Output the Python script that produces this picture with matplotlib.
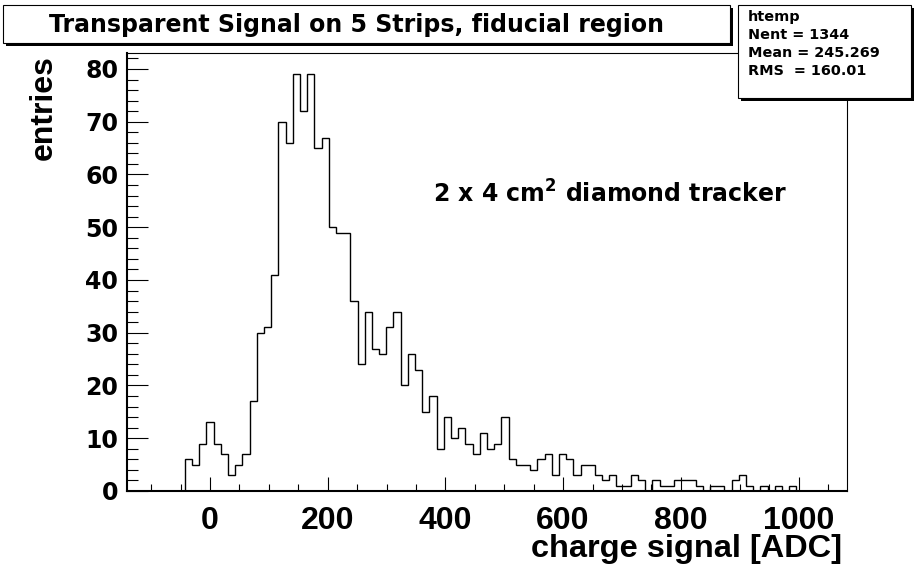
import numpy as np
import matplotlib
matplotlib.use("Agg")
import matplotlib.pyplot as plt
from matplotlib.patches import Rectangle
from matplotlib.ticker import MultipleLocator

plt.rcParams['font.family'] = 'DejaVu Sans'
plt.rcParams['font.weight'] = 'bold'
plt.rcParams['mathtext.default'] = 'bf'

# histogram "htemp": 100 bins over the auto range
xmin = -140.5
xmax = 1081.9
nbins = 100
counts = ([0] * 8 +
          [6, 5, 9, 13, 9, 7, 3, 5, 7, 17, 30, 31, 41, 70, 66, 79, 72, 79, 65, 67,
           50, 49, 49, 36, 24, 34, 27] +
          [26, 31, 34, 20, 26, 23, 15, 18, 8, 14, 10, 12, 9, 7, 11, 8, 9, 14, 6, 5,
           5, 4, 6, 7, 3, 7, 6, 3, 5, 5, 3, 2, 3, 1] +
          [1, 3, 2, 0, 2, 1, 1, 2, 2, 2, 1, 0, 1, 1, 0, 2, 3, 1, 0, 1, 0, 1, 0, 1] +
          [0] * 7)
ymax = 82.95

title = 'Transparent Signal on 5 Strips, fiducial region'
stats = ['htemp', 'Nent = 1344', 'Mean = 245.269', 'RMS  = 160.01']
note = '2 x 4 cm$^2$ diamond tracker'
xlabel = 'charge signal [ADC]'
ylabel = 'entries'

W, H = 916, 575


def fx(x):
    return x / W


def fy(y):
    return 1 - y / H


fig = plt.figure(figsize=(W / 100, H / 100), dpi=100)
ax = fig.add_axes([fx(127.3), fy(491), (846.7 - 127.3) / W, (491 - 53.4) / H])

edges = np.linspace(xmin, xmax, nbins + 1)
ax.stairs(counts, edges, color='black', lw=1.0)

ax.set_xlim(xmin, xmax)
ax.set_ylim(0, ymax)
ax.set_xticks(np.arange(0, 1001, 200))
ax.xaxis.set_minor_locator(MultipleLocator(50))
ax.set_yticks(np.arange(0, 81, 10))
ax.yaxis.set_minor_locator(MultipleLocator(2))

ax.tick_params(axis='x', which='major', direction='in', length=10, width=0.8,
               pad=11, labelsize=23, labelfontfamily='Liberation Sans')
ax.tick_params(axis='x', which='minor', direction='in', length=5, width=0.8)
ax.tick_params(axis='y', which='major', direction='in', length=15, width=0.8,
               pad=6.5, labelsize=17)
ax.tick_params(axis='y', which='minor', direction='in', length=8, width=0.8)

for s in ['left', 'bottom']:
    ax.spines[s].set_linewidth(1.5)
for s in ['top', 'right']:
    ax.spines[s].set_linewidth(0.8)

# title box with shadow
fig.patches.append(Rectangle((fx(5.5), fy(46)), (730 - 2.7) / W, (43 - 5) / H,
                             transform=fig.transFigure, facecolor='black',
                             edgecolor='none', zorder=1))
fig.patches.append(Rectangle((fx(2.7), fy(43)), (730 - 2.7) / W, (43 - 5) / H,
                             transform=fig.transFigure, facecolor='white',
                             edgecolor='black', lw=0.8, zorder=1.1))
fig.text(fx(356.7), fy(31.7), title, ha='center', va='baseline', fontsize=17)

# stats box with shadow
fig.patches.append(Rectangle((fx(740.5), fy(101)), (911 - 738) / W, (98 - 5) / H,
                             transform=fig.transFigure, facecolor='black',
                             edgecolor='none', zorder=1))
fig.patches.append(Rectangle((fx(738), fy(98)), (911 - 738) / W, (98 - 5) / H,
                             transform=fig.transFigure, facecolor='white',
                             edgecolor='black', lw=0.8, zorder=1.1))
for i, line in enumerate(stats):
    fig.text(fx(747.7), fy(20.7 + 18.2 * i), line, ha='left', va='baseline',
             fontsize=10.4)

fig.text(fx(432.7), fy(202.7), note, ha='left', va='baseline', fontsize=17)

fig.text(fx(842), fy(557), xlabel, ha='right', va='baseline', fontsize=23.4,
         family='Liberation Sans')
fig.text(fx(51.7), fy(55), ylabel, rotation=90, rotation_mode='anchor',
         ha='right', va='baseline', fontsize=23, family='Liberation Sans')

fig.savefig('out.png', dpi=100)
